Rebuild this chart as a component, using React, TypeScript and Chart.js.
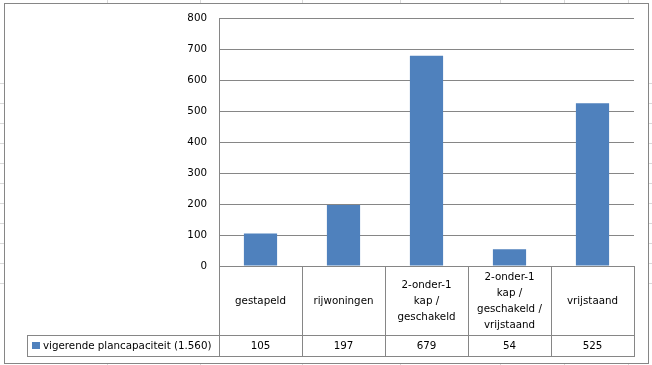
import React, { useEffect, useRef } from 'react';
import { Chart, registerables } from 'chart.js';

Chart.register(...registerables);

// ---- data ----
const categories: string[][] = [
  ['gestapeld'],
  ['rijwoningen'],
  ['2-onder-1', 'kap /', 'geschakeld'],
  ['2-onder-1', 'kap /', 'geschakeld /', 'vrijstaand'],
  ['vrijstaand'],
];
const seriesName = 'vigerende plancapaciteit (1.560)';
const seriesValues = [105, 197, 679, 54, 525];
const yTickMin = 0;
const yTickMax = 800;
const yTickStep = 100;

// ---- styling ----
const BAR = '#4F81BD';
const LINE = '#868686';
const FONT_FAMILY = '"DejaVu Sans"';
const FONT_SIZE = 10.3;
const FONT = `${FONT_SIZE}px ${FONT_FAMILY}`;
const CAT_ROW_H = 69;
const VAL_ROW_H = 21;
const LEGEND_LEFT = 27;
const CHART_BOX = { x: 4, y: 3, w: 644, h: 360 };

const tablePlugin = {
  id: 'excelTable',
  beforeDraw(chart: any) {
    const ctx = chart.ctx;
    ctx.save();
    ctx.fillStyle = '#ffffff';
    ctx.fillRect(CHART_BOX.x, CHART_BOX.y, CHART_BOX.w, CHART_BOX.h);
    ctx.strokeStyle = LINE;
    ctx.lineWidth = 1;
    ctx.strokeRect(CHART_BOX.x + 0.5, CHART_BOX.y + 0.5, CHART_BOX.w, CHART_BOX.h);
    ctx.restore();
  },
  afterDraw(chart: any) {
    const { ctx, chartArea } = chart;
    const xs = chart.scales.x;
    const n = chart.data.labels.length;
    const left = chartArea.left;
    const right = chartArea.right;
    const colW = (right - left) / n;
    const top = chartArea.bottom;
    const mid = top + CAT_ROW_H;
    const bottom = mid + VAL_ROW_H;
    const p = (v: number) => Math.round(v) + 0.5;

    ctx.save();
    ctx.strokeStyle = LINE;
    ctx.lineWidth = 1;
    const h = (x0: number, x1: number, y: number) => {
      ctx.beginPath();
      ctx.moveTo(Math.round(x0), p(y));
      ctx.lineTo(Math.round(x1) + 1, p(y));
      ctx.stroke();
    };
    const v = (x: number, y0: number, y1: number) => {
      ctx.beginPath();
      ctx.moveTo(p(x), Math.round(y0));
      ctx.lineTo(p(x), Math.round(y1) + 1);
      ctx.stroke();
    };
    h(left, right, top);
    h(LEGEND_LEFT, right, mid);
    h(LEGEND_LEFT, right, bottom);
    for (let i = 0; i < n; i++) {
      v(xs.getPixelForValue(i) - colW / 2, top, bottom);
    }
    v(right, top, bottom);
    v(LEGEND_LEFT, mid, bottom);

    ctx.fillStyle = '#000000';
    ctx.font = FONT;
    ctx.textAlign = 'center';
    ctx.textBaseline = 'middle';
    const lh = 16;
    const cy = (top + mid) / 2 + 0.5;
    categories.forEach((lines, i) => {
      const cx = xs.getPixelForValue(i);
      lines.forEach((line, j) => {
        ctx.fillText(line, cx, cy + (j - (lines.length - 1) / 2) * lh);
      });
    });
    const vy = (mid + bottom) / 2 + 0.5;
    const data = chart.data.datasets[0].data as number[];
    data.forEach((val, i) => {
      ctx.fillText(String(val), xs.getPixelForValue(i), vy);
    });

    // legend key
    ctx.fillStyle = BAR;
    ctx.fillRect(LEGEND_LEFT + 5, mid + 7, 8, 7);
    ctx.fillStyle = '#000000';
    ctx.textAlign = 'left';
    ctx.fillText(chart.data.datasets[0].label, LEGEND_LEFT + 16, vy);
    ctx.restore();
  },
};

// spreadsheet cell grid behind the chart object (decoration)
const sheetColXs = [107, 200, 302, 400, 500, 564, 628];
const sheetRowYs = [83, 103, 123, 143, 163, 183, 203, 223, 243, 263, 283];

export default function App() {
  const ref = useRef<HTMLCanvasElement | null>(null);
  useEffect(() => {
    if (!ref.current) return;
    const chart = new Chart(ref.current, {
      type: 'bar',
      data: {
        labels: categories.map((c) => c.join(' ')),
        datasets: [
          {
            label: seriesName,
            data: seriesValues,
            backgroundColor: BAR,
            borderWidth: 0,
            categoryPercentage: 1,
            barPercentage: 0.4,
          },
        ],
      },
      options: {
        responsive: false,
        animation: false,
        devicePixelRatio: 1,
        layout: { padding: { left: 0, top: 17, right: 18, bottom: 9 } },
        plugins: {
          legend: { display: false },
          tooltip: { enabled: false },
          title: { display: false },
        },
        scales: {
          x: {
            type: 'category',
            grid: { display: false },
            border: { display: false },
            ticks: { display: false },
            afterFit: (s: any) => {
              s.height = CAT_ROW_H + VAL_ROW_H;
            },
          },
          y: {
            min: yTickMin,
            max: yTickMax,
            ticks: {
              stepSize: yTickStep,
              color: '#000000',
              padding: 12,
              font: { family: FONT_FAMILY, size: FONT_SIZE },
            },
            grid: { color: LINE, drawTicks: false, lineWidth: 1 },
            border: { display: true, color: LINE, width: 1 },
            afterFit: (s: any) => {
              s.width = 219;
            },
          },
        },
      },
      plugins: [tablePlugin],
    });
    return () => chart.destroy();
  }, []);

  return (
    <div
      style={{
        position: 'fixed',
        left: 0,
        top: 0,
        width: 652,
        height: 365,
        background: '#ffffff',
        overflow: 'hidden',
      }}
    >
      {sheetColXs.map((x) => (
        <div
          key={'c' + x}
          style={{ position: 'absolute', left: x, top: 0, width: 1, height: 365, background: '#d9d9d9' }}
        />
      ))}
      {sheetRowYs.map((y) => (
        <div
          key={'r' + y}
          style={{ position: 'absolute', left: 0, top: y, width: 652, height: 1, background: '#d9d9d9' }}
        />
      ))}
      <canvas ref={ref} width={652} height={365} style={{ position: 'absolute', left: 0, top: 0, display: 'block' }} />
    </div>
  );
}
